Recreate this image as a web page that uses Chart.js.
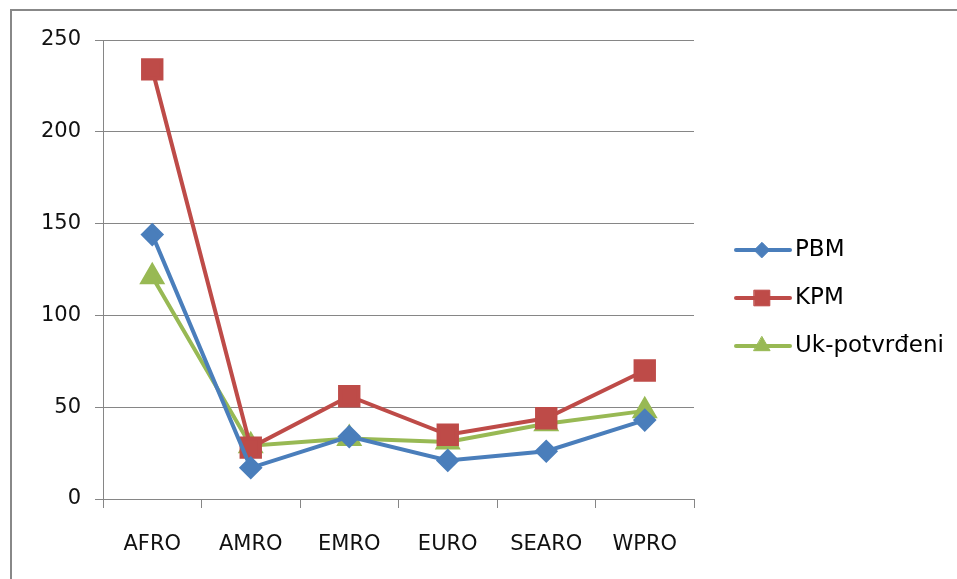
<!DOCTYPE html>
<html>
<head>
<meta charset="utf-8">
<script src="https://cdn.jsdelivr.net/npm/chart.js@4/dist/chart.umd.min.js"></script>
<style>
html, body { margin: 0; padding: 0; background: #fff; overflow: hidden; }
#wrap { position: relative; width: 957px; height: 579px; }
#frame { position: absolute; left: 10px; top: 9px; width: 960px; height: 600px; border: 2px solid #888; box-sizing: border-box; }
canvas { position: absolute; left: 0; top: 0; }
</style>
</head>
<body>
<div id="wrap">
  <div id="frame"></div>
  <canvas id="chart" width="957" height="579"></canvas>
</div>
<script>
const regions = ['AFRO', 'AMRO', 'EMRO', 'EURO', 'SEARO', 'WPRO'];
const pbm = [144, 17, 34, 21, 26, 43];
const kpm = [234, 28, 56, 35, 44, 70];
const ukPotvrdeni = [121, 29, 33, 31, 41, 48];
const yTicks = [0, 50, 100, 150, 200, 250];

const gridGray = '#868686';
Chart.defaults.font.family = '"DejaVu Sans", sans-serif';
Chart.defaults.font.size = 21;
Chart.defaults.color = '#111';

// right-hand legend: line segment with the marker, like the original
const lineLegend = {
    id: 'lineLegend',
    afterDraw(chart) {
        const ctx = chart.ctx;
        const area = chart.chartArea;
        const x0 = area.right + 42;
        ctx.save();
        chart.data.datasets.forEach((ds, i) => {
            const y = area.top + 210 + i * 48;
            ctx.strokeStyle = ds.borderColor;
            ctx.lineWidth = 4;
            ctx.lineCap = 'round';
            ctx.beginPath();
            ctx.moveTo(x0, y);
            ctx.lineTo(x0 + 54, y);
            ctx.stroke();
            ctx.fillStyle = ds.pointBackgroundColor;
            ctx.strokeStyle = ds.pointBorderColor;
            ctx.lineWidth = 1;
            Chart.helpers.drawPoint(ctx, {
                pointStyle: ds.pointStyle,
                radius: ds.pointRadius * 0.85,
                rotation: 0,
                borderWidth: 1
            }, x0 + 26, y);
            ctx.fillStyle = '#000';
            ctx.font = '23px "DejaVu Sans", sans-serif';
            ctx.textBaseline = 'middle';
            ctx.textAlign = 'left';
            ctx.fillText(ds.label, x0 + 59, y);
        });
        ctx.restore();
    }
};

const ctx = document.getElementById('chart').getContext('2d');
new Chart(ctx, {
    type: 'line',
    data: {
        labels: regions,
        datasets: [{
            label: 'PBM',
            data: pbm,
            borderColor: '#4a7ebb',
            backgroundColor: '#4a7ebb',
            pointBackgroundColor: '#4a7ebb',
            pointBorderColor: '#4a7ebb',
            pointStyle: 'rectRot',
            pointRadius: 9,
            borderWidth: 4
        }, {
            label: 'KPM',
            data: kpm,
            borderColor: '#be4b48',
            backgroundColor: '#be4b48',
            pointBackgroundColor: '#be4b48',
            pointBorderColor: '#be4b48',
            pointStyle: 'rect',
            pointRadius: 13,
            borderWidth: 4
        }, {
            label: 'Uk-potvrđeni',
            data: ukPotvrdeni,
            borderColor: '#98b954',
            backgroundColor: '#98b954',
            pointBackgroundColor: '#98b954',
            pointBorderColor: '#98b954',
            pointStyle: 'triangle',
            pointRadius: 11,
            borderWidth: 4
        }]
    },
    options: {
        responsive: false,
        animation: false,
        layout: {
            padding: { top: 40, right: 263, left: 0, bottom: 0 }
        },
        scales: {
            x: {
                offset: true,
                grid: {
                    offset: true,
                    drawOnChartArea: false,
                    tickLength: 9,
                    tickColor: gridGray
                },
                border: { color: gridGray },
                ticks: { padding: 24, color: '#111' },
                afterFit: s => { s.height = 80; }
            },
            y: {
                min: 0,
                max: 250,
                afterBuildTicks: s => { s.ticks = yTicks.map(v => ({ value: v })); },
                grid: {
                    color: gridGray,
                    tickLength: 8,
                    tickColor: gridGray
                },
                border: { color: gridGray },
                ticks: { padding: 14, color: '#111' },
                afterFit: s => { s.width = 103; }
            }
        },
        plugins: {
            legend: { display: false },
            tooltip: { enabled: false }
        }
    },
    plugins: [lineLegend]
});
</script>
</body>
</html>
